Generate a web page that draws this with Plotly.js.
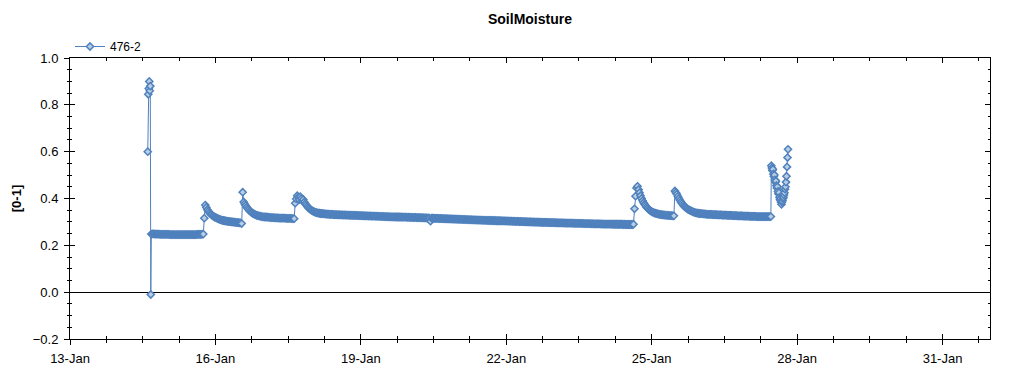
<!DOCTYPE html>
<html>
<head>
<meta charset="utf-8">
<script src="https://cdn.plot.ly/plotly-3.0.1.min.js"></script>
<style>html,body{margin:0;padding:0;background:#fff;}#chart{width:1024px;height:375px;}</style>
</head>
<body>
<div id="chart"></div>
<script>
// ---- data ----
const seriesName = '476-2';
const chartTitle = 'SoilMoisture';
const yTitle = '[0-1]';

// initial burst of readings (15-min spacing)
const spikeTimes = ['2021-01-14 14:30','2021-01-14 14:45','2021-01-14 15:00','2021-01-14 15:15',
                    '2021-01-14 15:30','2021-01-14 15:45','2021-01-14 16:00','2021-01-14 16:15'];
const spikeValues = [0.60, 0.845, 0.87, 0.90, 0.86, 0.88, -0.01, 0.248];

// half-hourly readings starting 14-Jan 17:00
const halfHourStart = '2021-01-14 17:00';
const halfHourValues = [
  0.249,0.249,0.248,0.248,0.248,0.248,0.248,0.247,0.247,0.247,
  0.247,0.247,0.247,0.247,0.247,0.247,0.247,0.246,0.246,0.246,
  0.246,0.246,0.246,0.246,0.246,0.246,0.246,0.246,0.246,0.246,
  0.246,0.246,0.246,0.246,0.246,0.246,0.246,0.246,0.246,0.246,
  0.246,0.246,0.246,0.246,0.247,0.247,0.247,0.247,0.247,0.248,
  0.248,
  0.316,0.372,
  0.362,0.352,0.346,0.340,0.335,0.331,0.327,0.324,0.321,0.319,
  0.317,0.315,0.313,0.311,0.310,0.308,0.307,0.306,0.305,0.304,
  0.303,0.302,0.302,0.301,0.301,0.300,0.300,0.299,0.299,0.298,
  0.298,0.297,0.297,0.296,0.296,
  0.293,0.427,
  0.385,0.377,0.370,0.363,0.357,0.352,0.347,0.343,0.340,0.337,
  0.334,0.332,0.330,0.328,0.327,0.326,0.325,0.324,0.323,0.322,
  0.322,0.321,0.321,0.320,0.320,0.319,0.319,0.318,0.318,0.318,
  0.318,0.317,0.317,0.317,0.317,0.316,0.316,0.316,0.316,0.316,
  0.316,0.316,0.315,0.315,0.315,0.315,0.315,0.315,0.314,0.314,
  0.314,
  0.380,0.398,0.412,0.405,0.395,0.408,0.400,0.390,0.396,0.385,
  0.378,0.372,0.366,0.361,0.357,0.353,0.350,0.347,0.345,0.343,
  0.341,0.340,0.339,0.338,0.337,0.336,0.336,0.335,0.335,0.334,
  0.334,0.333,0.333,0.333,0.332,0.332,0.332,0.332,0.331,
  0.331,0.331,0.331,0.330,0.331,0.330,0.330,0.330,0.330,0.329,
  0.330,0.329,0.329,0.329,0.329,0.328,0.329,0.328,0.328,0.328,
  0.328,0.328,0.327,0.328,0.327,0.327,0.327,0.327,0.326,0.327,
  0.326,0.326,0.326,0.326,0.325,0.326,0.325,0.325,0.325,0.325,
  0.325,0.324,0.325,0.324,0.324,0.324,0.324,0.323,0.324,0.323,
  0.323,0.323,0.323,0.322,0.323,0.322,0.322,0.322,0.322,0.321,
  0.322,0.321,0.321,0.321,0.321,0.320,0.321,0.320,0.320,0.320,
  0.320,0.320,0.319,0.320,0.319,0.319,0.319,0.319,0.318,0.319,
  0.319,0.318,0.318,0.318,0.318,0.318,0.317,0.318,0.317,0.317,
  0.317,0.317,0.316,0.317,0.316,0.303,0.316,0.316,0.316,0.315,
  0.315,0.315,0.315,0.315,0.314,0.315,0.314,0.314,0.314,0.314,
  0.313,0.314,0.313,0.313,0.313,0.313,0.312,0.313,0.312,0.312,
  0.312,0.312,0.311,0.312,0.311,0.311,0.311,0.311,0.310,0.311,
  0.310,0.310,0.310,0.310,0.309,0.310,0.309,0.309,0.309,0.309,
  0.308,0.309,0.308,0.308,0.308,0.308,0.307,0.308,0.307,0.307,
  0.307,0.307,0.306,0.307,0.306,0.306,0.306,0.306,0.305,0.306,
  0.305,0.305,0.305,0.305,0.304,0.305,0.304,0.304,0.304,0.304,
  0.303,0.304,0.303,0.303,0.303,0.303,0.302,0.303,0.302,0.302,
  0.302,0.302,0.302,0.301,0.302,0.301,0.301,0.301,0.301,0.300,
  0.301,0.300,0.300,0.300,0.300,0.300,0.299,0.300,0.299,0.299,
  0.299,0.299,0.299,0.298,0.299,0.298,0.298,0.298,0.298,0.298,
  0.298,0.297,0.298,0.297,0.297,0.297,0.297,0.297,0.297,0.296,
  0.297,0.296,0.296,0.296,0.296,0.296,0.296,0.295,0.296,0.295,
  0.295,0.295,0.295,0.295,0.295,0.295,0.294,0.295,0.294,0.294,
  0.294,0.294,0.294,0.294,0.294,0.293,0.294,0.293,0.293,0.293,
  0.293,0.293,0.293,0.293,0.292,0.293,0.292,0.292,0.292,0.292,
  0.292,0.292,0.292,0.292,0.291,0.292,0.291,0.291,0.291,0.291,
  0.291,0.291,0.291,0.291,0.291,0.290,0.291,0.290,0.290,0.290,
  0.290,0.290,0.290,0.290,0.290,0.290,0.289,0.290,0.289,0.289,
  0.289,0.289,0.289,0.289,0.289,0.289,0.290,
  0.356,0.410,0.445,0.452,0.438,0.425,0.412,0.400,0.390,0.382,
  0.375,0.369,0.363,0.358,0.354,0.350,0.347,0.344,0.342,0.340,
  0.338,0.337,0.335,0.334,0.333,0.332,0.331,0.331,0.330,0.330,
  0.329,0.329,0.328,0.328,0.328,0.327,0.327,0.327,0.326,0.326,
  0.432,0.425,0.418,0.409,0.400,0.392,0.385,0.379,0.373,0.368,
  0.364,0.360,0.357,0.354,0.351,0.349,0.347,0.345,0.343,0.341,
  0.340,0.339,0.338,0.337,0.336,0.336,0.335,0.335,0.334,0.334,
  0.333,0.333,0.332,0.332,
  0.332,0.332,0.332,0.331,0.331,0.331,0.331,0.331,0.330,0.330,
  0.330,0.330,0.330,0.329,0.329,0.329,0.329,0.329,0.328,0.328,
  0.328,0.328,0.328,0.327,0.327,0.327,0.327,0.327,0.326,0.326,
  0.326,0.326,0.326,0.326,0.325,0.325,0.325,0.325,0.325,0.325,
  0.324,0.324,0.324,0.324,0.324,0.324,0.324,0.323,0.323,0.323,
  0.323,0.323,0.323,0.323,0.323,0.323,0.323,0.323,0.323,0.323,
  0.323,0.323
];

// final burst (15-min spacing) starting 27-Jan 11:15
const endStart = '2021-01-27 11:15';
const endValues = [
  0.540,0.530,0.520,0.525,0.505,0.495,0.500,0.480,0.470,0.475,0.455,0.445,0.450,0.430,0.420,0.425,0.405,0.395,0.400,0.385,
  0.375,0.385,0.390,0.400,0.405,0.415,0.425,0.440,0.450,0.470,0.495,0.535,0.575,0.610
];

const xRange = ['2021-01-13 00:00', '2021-01-31 23:30'];
const yRange = [-0.2, 1.0];

// ---- build timestamps ----
function parseLocal(s){
  const [d,t] = s.split(' ');
  const [Y,M,D] = d.split('-').map(Number);
  const [h,m] = t.split(':').map(Number);
  return Date.UTC(Y, M-1, D, h, m);
}
function fmt(ms){ return new Date(ms).toISOString().slice(0,19).replace('T',' '); }
function series(start, stepMin, n){
  const t0 = parseLocal(start); const out = [];
  for (let i=0;i<n;i++) out.push(fmt(t0 + i*stepMin*60000));
  return out;
}
const xs = spikeTimes.concat(series(halfHourStart, 30, halfHourValues.length), series(endStart, 15, endValues.length));
const ys = spikeValues.concat(halfHourValues, endValues);

const lineBlue = '#4f81bd';
const fillBlue = '#b9cde5';

const trace = {
  x: xs, y: ys, type: 'scatter', mode: 'lines+markers', name: seriesName,
  line: {color: lineBlue, width: 1},
  marker: {symbol: 'diamond', size: 5.5, color: fillBlue, line: {color: lineBlue, width: 1.5}}
};
const dummy = {x: [], y: [], xaxis: 'x2', yaxis: 'y2', type: 'scatter', mode: 'markers', showlegend: false, hoverinfo: 'skip'};

const DAY = 86400000;
const fontFam = 'Liberation Sans, Arial, sans-serif';

const layout = {
  width: 1024, height: 375,
  paper_bgcolor: '#fff', plot_bgcolor: '#fff',
  margin: {l: 70, r: 34, t: 58, b: 36, pad: 0, autoexpand: false},
  font: {family: fontFam, size: 13, color: '#000'},
  title: {text: '<b>' + chartTitle + '</b>', font: {size: 14, color: '#000', family: fontFam},
          x: 0.5, xref: 'paper', xanchor: 'center', y: 1 - 19/375, yref: 'container', yanchor: 'middle'},
  showlegend: true,
  legend: {x: 0, xanchor: 'left', xref: 'paper', y: 1 - 32/375, yref: 'container', yanchor: 'top',
           font: {size: 12, color: '#000', family: fontFam}, bgcolor: 'rgba(0,0,0,0)', borderwidth: 0},
  xaxis: {
    type: 'date', range: xRange, tick0: '2021-01-13', dtick: 3*DAY, tickformat: '%d-%b',
    ticks: 'outside', ticklen: 5, tickwidth: 1, tickcolor: '#000',
    showline: true, linecolor: '#000', linewidth: 1, mirror: true,
    showgrid: false, zeroline: false, ticklabelstandoff: 2,
    tickfont: {size: 13, color: '#000', family: fontFam},
    minor: {tick0: '2021-01-13', dtick: 0.75*DAY, ticks: 'outside', ticklen: 3, tickcolor: '#000', tickwidth: 1, showgrid: false}
  },
  yaxis: {
    range: yRange, dtick: 0.2, tick0: 0, tickformat: '.1f',
    ticks: 'outside', ticklen: 5, tickwidth: 1, tickcolor: '#000',
    showline: true, linecolor: '#000', linewidth: 1, mirror: true,
    showgrid: false, zeroline: true, zerolinecolor: '#000', zerolinewidth: 1,
    ticklabelstandoff: 3,
    tickfont: {size: 13, color: '#000', family: fontFam},
    title: {text: '<b>' + yTitle + '</b>', font: {size: 13, color: '#000', family: fontFam}, standoff: 8},
    minor: {tick0: 0, dtick: 0.05, ticks: 'outside', ticklen: 2, tickcolor: '#000', tickwidth: 1, showgrid: false}
  },
  xaxis2: {
    type: 'date', overlaying: 'x', anchor: 'y2', range: xRange, tick0: '2021-01-13', dtick: 3*DAY,
    ticks: 'inside', ticklen: 5, tickwidth: 1, tickcolor: '#000', mirror: 'ticks',
    showline: false, showgrid: false, zeroline: false, showticklabels: false,
    minor: {tick0: '2021-01-13', dtick: 0.75*DAY, ticks: 'inside', ticklen: 3, tickcolor: '#000', tickwidth: 1, showgrid: false}
  },
  yaxis2: {
    overlaying: 'y', anchor: 'x2', range: yRange, dtick: 0.2, tick0: 0,
    ticks: 'inside', ticklen: 5, tickwidth: 1, tickcolor: '#000', mirror: 'ticks',
    showline: false, showgrid: false, zeroline: false, showticklabels: false,
    minor: {tick0: 0, dtick: 0.05, ticks: 'inside', ticklen: 2, tickcolor: '#000', tickwidth: 1, showgrid: false}
  }
};

Plotly.newPlot('chart', [trace, dummy], layout, {displayModeBar: false, staticPlot: true});
</script>
</body>
</html>
